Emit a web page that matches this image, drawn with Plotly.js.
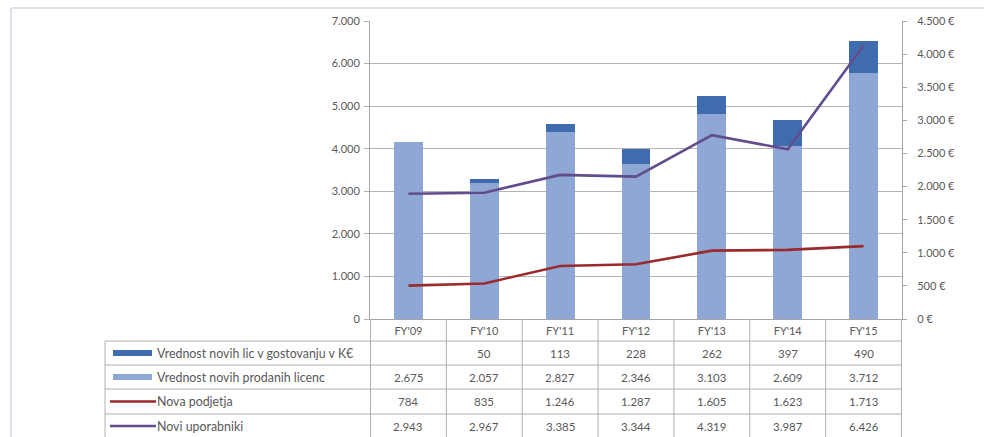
<!DOCTYPE html>
<html>
<head>
<meta charset="utf-8">
<script src="https://cdn.plot.ly/plotly-3.0.1.min.js"></script>
<style>html,body{margin:0;padding:0;background:#fff;}#chart{width:984px;height:437px;}</style>
</head>
<body>
<div id="chart"></div>
<script>
const categories = ["FY'09", "FY'10", "FY'11", "FY'12", "FY'13", "FY'14", "FY'15"];
const hostingValues = [null, 50, 113, 228, 262, 397, 490];
const licenceValues = [2675, 2057, 2827, 2346, 3103, 2609, 3712];
const newCompanies = [784, 835, 1246, 1287, 1605, 1623, 1713];
const newUsers = [2943, 2967, 3385, 3344, 4319, 3987, 6426];
const seriesNames = ["Vrednost novih lic v gostovanju v K€", "Vrednost novih prodanih licenc", "Nova podjetja", "Novi uporabniki"];
const rowValues = [hostingValues, licenceValues, newCompanies, newUsers];

const cLight = '#8FA7D5', cDark = '#3E6CAF', cRed = '#9A2A2C', cPurple = '#614C8E';
const keyColors = [cDark, cLight, cRed, cPurple];
const keyIsBar = [true, true, false, false];
const textColor = '#595959';
const fontFam = 'Lato, "Open Sans", sans-serif';

function fmt(v) {
  if (v === null || v === undefined) return '';
  return String(v).replace(/\B(?=(\d{3})+(?!\d))/g, '.');
}

// pixel helpers (plot area: x 370..902, y 21..319)
const PL = 370, PW = 532, PB = 319, PH = 298;
const px = x => (x - PL) / PW;
const py = y => (PB - y) / PH;

const traces = [
  {type: 'bar', x: categories, y: licenceValues, name: seriesNames[1], marker: {color: cLight}, yaxis: 'y', hoverinfo: 'skip'},
  {type: 'bar', x: categories, y: hostingValues, name: seriesNames[0], marker: {color: cDark}, yaxis: 'y', hoverinfo: 'skip'},
  {type: 'scatter', mode: 'lines', x: categories, y: newCompanies, name: seriesNames[2], line: {color: cRed, width: 2.6}, yaxis: 'y2'},
  {type: 'scatter', mode: 'lines', x: categories, y: newUsers, name: seriesNames[3], line: {color: cPurple, width: 2.6}, yaxis: 'y2'}
];

const gridCol = '#b3b3b3', lineCol = '#a6a6a6', tableCol = '#b0b0b0';
const shapes = [];
const annotations = [];

// outer frame
shapes.push({type: 'line', xref: 'paper', yref: 'paper', x0: px(11), x1: px(990), y0: py(8), y1: py(8), line: {color: '#dde2ea', width: 2}});
shapes.push({type: 'line', xref: 'paper', yref: 'paper', x0: px(11), x1: px(11), y0: py(8), y1: py(440), line: {color: '#dde2ea', width: 2}});

// table row lines
const rowLines = [341, 365, 389, 414];
rowLines.forEach(y => shapes.push({type: 'line', xref: 'paper', yref: 'paper', x0: px(105), x1: 1, y0: py(y), y1: py(y), line: {color: tableCol, width: 1}}));
// table vertical lines
shapes.push({type: 'line', xref: 'paper', yref: 'paper', x0: px(105), x1: px(105), y0: py(341), y1: py(440), line: {color: tableCol, width: 1}});
for (let i = 0; i <= categories.length; i++) {
  shapes.push({type: 'line', xref: 'x', yref: 'paper', x0: i - 0.5, x1: i - 0.5, y0: 0, y1: py(440), line: {color: tableCol, width: 1}});
}

const rowCenters = [353, 377, 401.5, 426];
rowValues.forEach((vals, r) => {
  const yc = py(rowCenters[r]);
  // legend key
  if (keyIsBar[r]) {
    shapes.push({type: 'rect', xref: 'paper', yref: 'paper', x0: px(113), x1: px(152), y0: py(rowCenters[r] - 3), y1: py(rowCenters[r] + 3), fillcolor: keyColors[r], line: {width: 0}});
  } else {
    shapes.push({type: 'line', xref: 'paper', yref: 'paper', x0: px(110), x1: px(156), y0: yc, y1: yc, line: {color: keyColors[r], width: 2.6}});
  }
  annotations.push({xref: 'paper', yref: 'paper', x: px(155), y: yc, xanchor: 'left', yanchor: 'middle', showarrow: false, text: seriesNames[r], font: {family: fontFam, size: 12.4, color: textColor}});
  vals.forEach((v, i) => {
    annotations.push({xref: 'x', yref: 'paper', x: categories[i], y: yc, xanchor: 'center', yanchor: 'middle', showarrow: false, text: fmt(v), font: {family: fontFam, size: 11.5, color: textColor}});
  });
});

const layout = {
  width: 984, height: 437,
  margin: {l: 370, r: 82, t: 21, b: 118, pad: 0},
  paper_bgcolor: '#ffffff', plot_bgcolor: '#ffffff',
  showlegend: false,
  barmode: 'stack', bargap: 0.62,
  separators: ',.',
  font: {family: fontFam, size: 11, color: textColor},
  xaxis: {type: 'category', showline: true, linecolor: lineCol, linewidth: 1, ticks: '', showgrid: false,
          tickfont: {family: fontFam, size: 11, color: textColor}, ticklabelstandoff: 2, fixedrange: true},
  yaxis: {side: 'right', range: [0, 4500], dtick: 500, tick0: 0, showgrid: false, zeroline: false,
          showline: true, linecolor: lineCol, ticks: 'outside', ticklen: 4, tickcolor: lineCol,
          separatethousands: true, ticksuffix: ' €', tickfont: {family: fontFam, size: 11, color: textColor}, ticklabelstandoff: 8},
  yaxis2: {overlaying: 'y', side: 'left', range: [0, 7000], dtick: 1000, tick0: 0, showgrid: true, gridcolor: gridCol, gridwidth: 1,
           zeroline: false, showline: true, linecolor: lineCol, ticks: 'outside', ticklen: 5, tickcolor: gridCol,
           separatethousands: true, tickfont: {family: fontFam, size: 11, color: textColor}, ticklabelstandoff: 2},
  shapes: shapes,
  annotations: annotations
};

Plotly.newPlot('chart', traces, layout, {displayModeBar: false, staticPlot: true});
</script>
</body>
</html>
